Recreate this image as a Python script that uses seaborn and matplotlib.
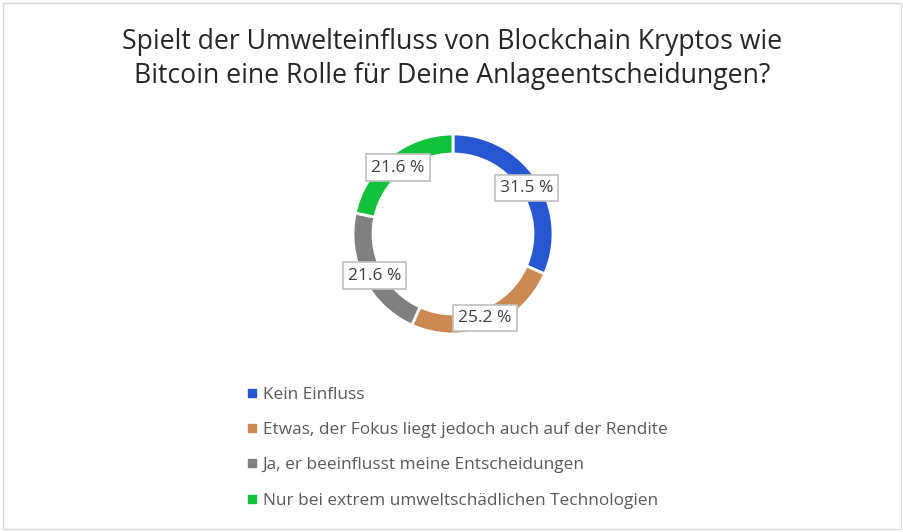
import numpy as np
import seaborn as sns
import matplotlib.pyplot as plt
from matplotlib.lines import Line2D
from matplotlib.patches import Rectangle

# Daten
kategorien = [
    "Kein Einfluss",
    "Etwas, der Fokus liegt jedoch auch auf der Rendite",
    "Ja, er beeinflusst meine Entscheidungen",
    "Nur bei extrem umweltschädlichen Technologien",
]
anteile = [31.5, 25.2, 21.6, 21.6]
farben = ["#2756D3", "#CC8A52", "#808080", "#12C23B"]
titel = "Spielt der Umwelteinfluss von Blockchain Kryptos wie\nBitcoin eine Rolle für Deine Anlageentscheidungen?"

sns.set_theme(style="white")
plt.rcParams["font.family"] = ["Open Sans", "DejaVu Sans"]

fig = plt.figure(figsize=(9.04, 5.32), dpi=100)
fig.patches.append(Rectangle((0.003, 0.006), 0.994, 0.988, transform=fig.transFigure,
                             fill=False, edgecolor="#D9D9D9", linewidth=1))

fig.text(0.5, 0.889, titel, ha="center", va="center", fontsize=19.2,
         color="#262626", linespacing=1.3)

# Donut
ax = fig.add_axes([353 / 904, 1 - 334 / 532, 200 / 904, 200 / 532])
wedges, _ = ax.pie(anteile, colors=farben, startangle=90, counterclock=False,
                   radius=1, wedgeprops=dict(width=0.2, edgecolor="white", linewidth=2))
ax.set_xlim(-1, 1)
ax.set_ylim(-1, 1)
ax.set_aspect("equal")
ax.axis("off")

for w, wert in zip(wedges, anteile):
    mitte = np.deg2rad((w.theta1 + w.theta2) / 2)
    r = 0.88
    ax.text(r * np.cos(mitte), r * np.sin(mitte) - 0.02, f"{wert:.1f} %",
            ha="center", va="center", fontsize=12.5, color="#404040",
            bbox=dict(boxstyle="square,pad=0.3", facecolor="white", edgecolor="#BFBFBF", linewidth=1.2))

# Legende
handles = [Line2D([0], [0], marker="s", linestyle="none", markersize=6,
                  markerfacecolor=c, markeredgecolor=c) for c in farben]
leg = fig.legend(handles, kategorien, loc="upper left", bbox_to_anchor=(231 / 904, 1 - 371 / 532),
                 frameon=False, fontsize=12.4, labelspacing=1.12, handlelength=0.6,
                 handletextpad=0.35, labelcolor="#595959")

fig.savefig("out.png", dpi=100)
